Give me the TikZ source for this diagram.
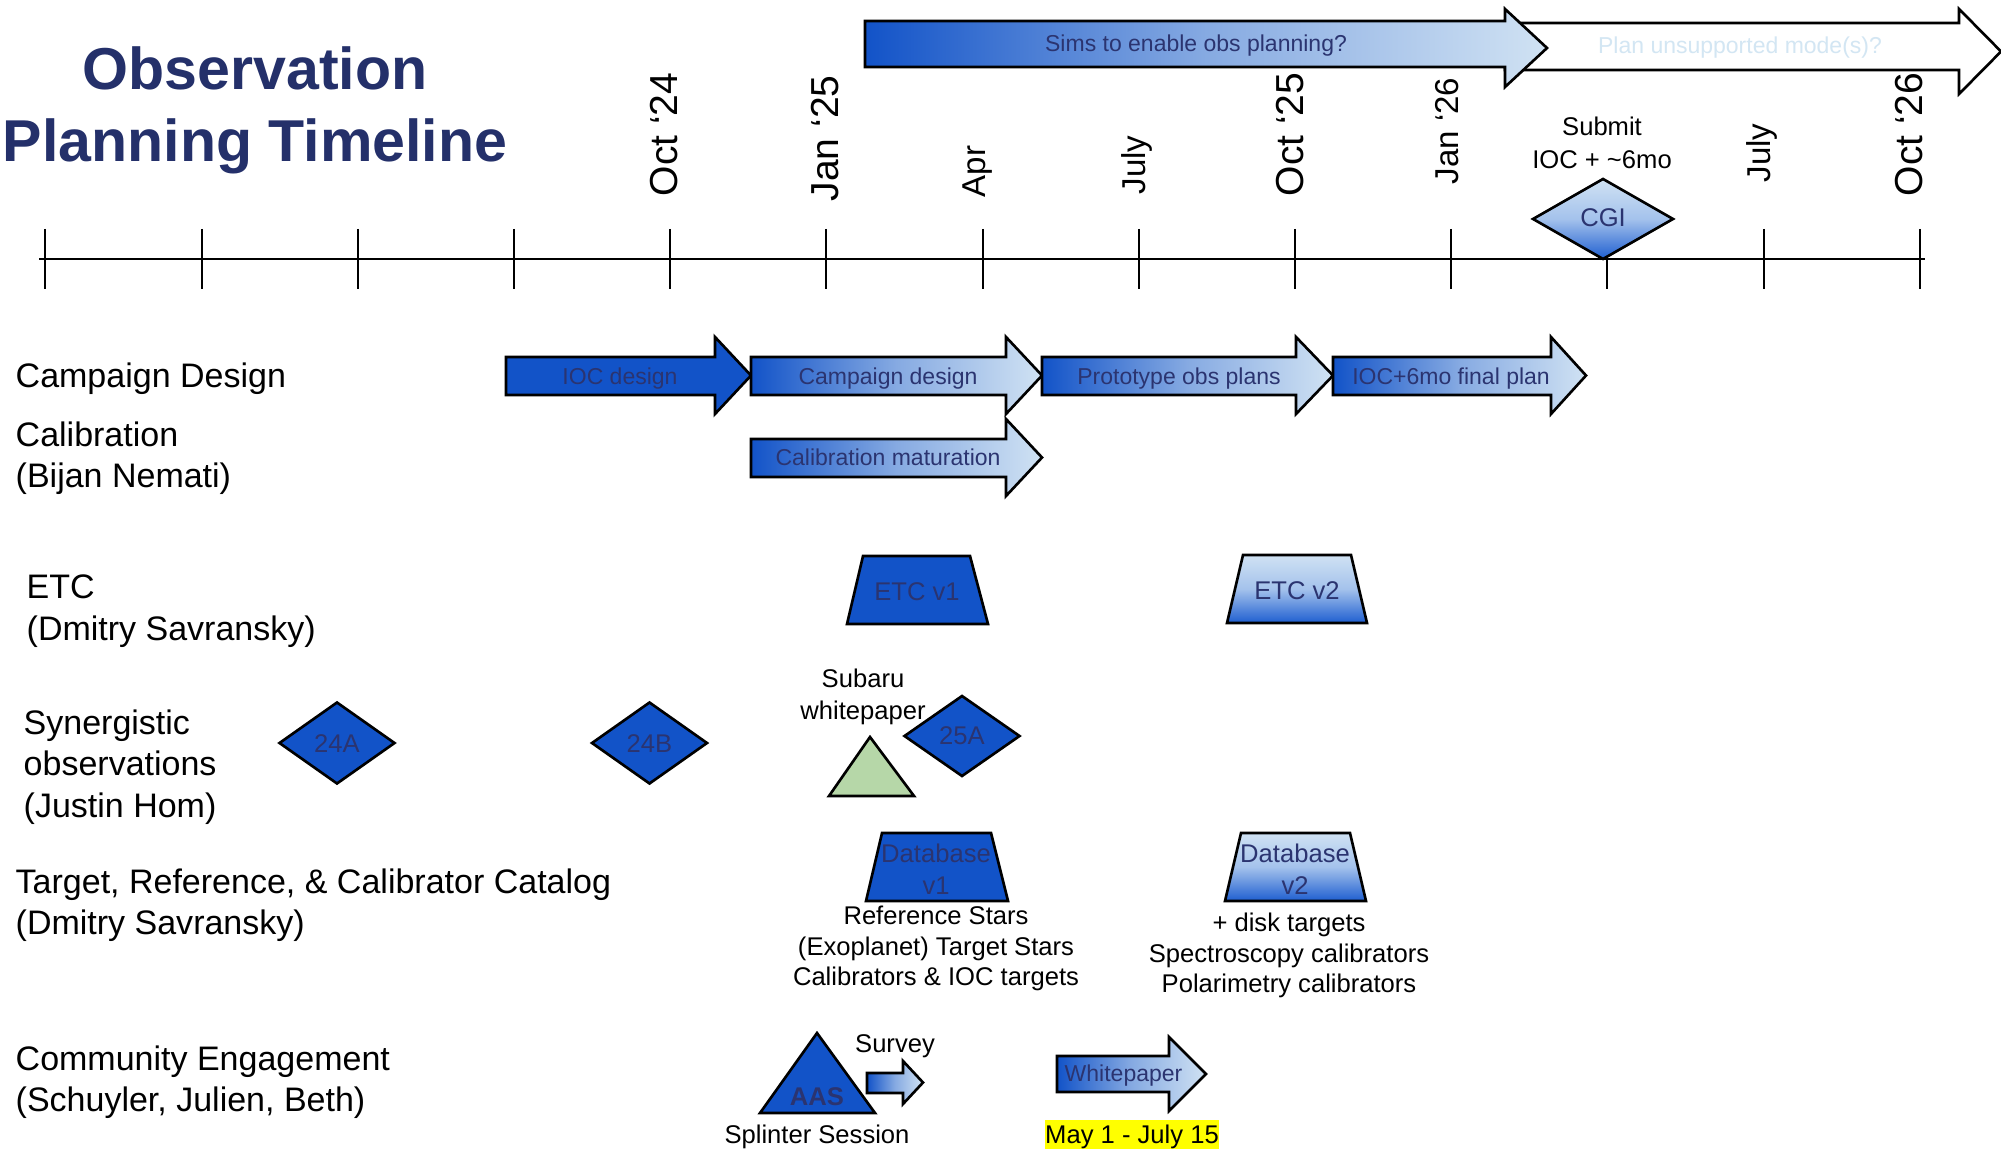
\documentclass[tikz,border=0pt]{standalone}
\usepackage{fontspec}
\setmainfont{Liberation Sans}
\definecolor{dkblue}{HTML}{1253C8}
\definecolor{ltblue}{HTML}{D0E2F3}
\definecolor{mdblue}{HTML}{86AAE2}
\definecolor{vmid}{HTML}{A4C2EC}
\definecolor{vbot}{HTML}{1E5ED0}
\definecolor{navy}{HTML}{2B3470}
\definecolor{titlec}{HTML}{24306A}
\definecolor{paleblue}{HTML}{D3E6F3}
\definecolor{sagegreen}{HTML}{B6D7A8}
\definecolor{hilite}{HTML}{FFFF00}
\newcommand\fRow{\fontsize{9.67}{11.8}\selectfont}
\newcommand\fAnn{\fontsize{7.28}{9.2}\selectfont}
\newcommand\fList{\fontsize{7.28}{8.6}\selectfont}
\newcommand\fArr{\fontsize{6.54}{8}\selectfont}
\newcommand\fBig{\fontsize{11.1}{13}\selectfont}
\newcommand\fSmall{\fontsize{9.4}{11}\selectfont}
\newcommand\fTitle{\fontsize{16.8}{20.5}\selectfont\bfseries}
% block arrow: style, x left, x head, x tip, rect top, rect bottom, head top, head bottom
\newcommand{\blockarrow}[8]{\path[#1] (#2,#5) -- (#3,#5) -- (#3,#7) -- (#4,{(#7+#8)/2}) -- (#3,#8) -- (#3,#6) -- (#2,#6) -- cycle;}
% trapezoid: style, top-left x, top-right x, bottom-left x, bottom-right x, top y, bottom y
\newcommand{\mytrap}[7]{\path[#1] (#2,#6) -- (#3,#6) -- (#5,#7) -- (#4,#7) -- cycle;}
% diamond: style, cx, cy, half width, half height
\newcommand{\mydiamond}[5]{\path[#1] ({#2-#4},#3) -- (#2,{#3-#5}) -- ({#2+#4},#3) -- (#2,{#3+#5}) -- cycle;}
\tikzset{
  outl/.style={draw=black, line width=0.75pt, line join=miter},
  solidshape/.style={outl, fill=dkblue},
  hgrad/.style={outl, left color=dkblue, right color=ltblue, middle color=mdblue},
  vgrad/.style={outl, top color=ltblue, bottom color=vbot, middle color=vmid},
  whiteshape/.style={outl, fill=white},
  greenshape/.style={outl, fill=sagegreen},
  arrlbl/.style={inner sep=0pt, text=navy, font=\fArr, anchor=base},
  shplbl/.style={inner sep=0pt, text=navy, font=\fAnn, anchor=base},
  annot/.style={inner sep=0pt, text=black, font=\fAnn, align=center},
  rowlbl/.style={inner sep=0pt, text=black, font=\fRow, align=left, anchor=west},
  monthB/.style={rotate=90, anchor=west, inner sep=0pt, font=\fBig},
  monthS/.style={rotate=90, anchor=west, inner sep=0pt, font=\fSmall},
  axisline/.style={line width=0.85pt},
  tickline/.style={line width=0.6pt}
}
\begin{document}
\begin{tikzpicture}[x=0.01cm, y=-0.01cm]
\useasboundingbox (0,0) rectangle (2001,1149);
\fill[white] (0,0) rectangle (2001,1149);

% title
\node[font=\fTitle, text=titlec, align=center, inner sep=0pt] (title) at (255,110) {Observation\\Planning Timeline};

% top arrows
\blockarrow{whiteshape}{1505}{1959}{2001}{23}{70}{9}{94}
\blockarrow{hgrad}{865}{1505}{1547}{21}{67}{9}{87}
\node[arrlbl] (sims) at (1196,52) {Sims to enable obs planning?};
\node[arrlbl, text=paleblue] (plan) at (1740,54) {Plan unsupported mode(s)?};

% month labels
\node[monthB] (m1) at (664,197) {Oct ‘24};
\node[monthB] (m2) at (825,202) {Jan ‘25};
\node[monthS] (m3) at (978,198) {Apr};
\node[monthS] (m4) at (1137,195) {July};
\node[monthB] (m5) at (1290,197) {Oct ‘25};
\node[monthS] (m6) at (1447,185) {Jan ‘26};
\node[monthS] (m7) at (1762,183) {July};
\node[monthB] (m8) at (1909,197) {Oct ‘26};

% axis
\draw[axisline] (39,259) -- (1925,259);
\foreach \k in {0,...,12} \draw[tickline] ({45.4+156.2*\k},229) -- ++(0,60);

% CGI milestone
\node[annot] (submit) at (1602,143) {Submit\\IOC + \textasciitilde6mo};
\mydiamond{vgrad}{1603}{219}{70}{40}
\node[shplbl] (cgi) at (1603,227) {CGI};

% row labels
\node[rowlbl, anchor=base west] (rcamp) at (15,387) {Campaign Design};
\node[rowlbl] (rcal) at (15,458) {Calibration\\(Bijan Nemati)};
\node[rowlbl] (retc) at (26,611) {ETC\\(Dmitry Savransky)};
\node[rowlbl] (rsyn) at (23,767) {Synergistic\\observations\\(Justin Hom)};
\node[rowlbl] (rcat) at (15,905) {Target, Reference, \& Calibrator Catalog\\(Dmitry Savransky)};
\node[rowlbl] (rcom) at (15,1082) {Community Engagement\\(Schuyler, Julien, Beth)};

% campaign design row
\blockarrow{solidshape}{506}{715}{751}{357}{395}{337}{414}
\blockarrow{hgrad}{751}{1006}{1042}{357}{395}{337}{414}
\blockarrow{hgrad}{1042}{1296}{1333}{357}{395}{337}{414}
\blockarrow{hgrad}{1333}{1551}{1586}{357}{395}{337}{414}
\node[arrlbl] (iocd) at (620,384) {IOC design};
\node[arrlbl] (campd) at (888,384) {Campaign design};
\node[arrlbl] (proto) at (1179,384) {Prototype obs plans};
\node[arrlbl] (iocp) at (1451,384) {IOC+6mo final plan};

% calibration row
\blockarrow{hgrad}{751}{1006}{1042}{439}{477}{419}{496}
\node[arrlbl] (calm) at (888,465) {Calibration maturation};

% ETC row
\mytrap{solidshape}{863}{970}{847}{988}{556}{624}
\mytrap{vgrad}{1243}{1351}{1227}{1367}{555}{623}
\node[shplbl] (etc1) at (917,600) {ETC v1};
\node[shplbl] (etc2) at (1297,599) {ETC v2};

% synergistic row
\mydiamond{solidshape}{337}{743}{57.5}{40.5}
\mydiamond{solidshape}{649.5}{743}{57.5}{40.5}
\node[shplbl] (s24a) at (337,752) {24A};
\node[shplbl] (s24b) at (649.5,752) {24B};
\node[annot] (subaru) at (863,697) {Subaru\\whitepaper};
\path[greenshape] (870,737) -- (914,796) -- (829,796) -- cycle;
\mydiamond{solidshape}{962}{736}{57.5}{40}
\node[shplbl] (s25a) at (962,744) {25A};

% catalog row
\mytrap{solidshape}{882}{991}{866}{1008}{833}{901}
\mytrap{vgrad}{1241}{1350}{1225}{1366}{833}{901}
\node[shplbl, anchor=center, align=center] (db1) at (936,869.5) {Database\\v1};
\node[shplbl, anchor=center, align=center] (db2) at (1295,869.5) {Database\\v2};
\node[annot, font=\fList] (refs) at (936,948.4) {Reference Stars\\(Exoplanet) Target Stars\\Calibrators \& IOC targets};
\node[annot, font=\fList] (disk) at (1289,955.5) {+ disk targets\\Spectroscopy calibrators\\Polarimetry calibrators};

% community row
\path[solidshape] (817,1033) -- (875,1113) -- (760,1113) -- cycle;
\node[shplbl, font=\fAnn\bfseries] (aas) at (817,1105) {AAS};
\node[annot, anchor=base] (survey) at (895,1052) {Survey};
\blockarrow{hgrad}{867}{903}{923}{1073}{1093}{1061}{1104}
\node[annot, anchor=base] (splinter) at (817,1143) {Splinter Session};
\blockarrow{hgrad}{1057}{1169}{1206}{1056}{1092}{1037}{1111}
\node[arrlbl] (wp) at (1123.5,1081) {Whitepaper};
\node[annot, anchor=base, fill=hilite, text height=6.5pt, text depth=1.8pt] (dates) at (1132,1143) {May 1 - July 15};
\end{tikzpicture}
\end{document}
